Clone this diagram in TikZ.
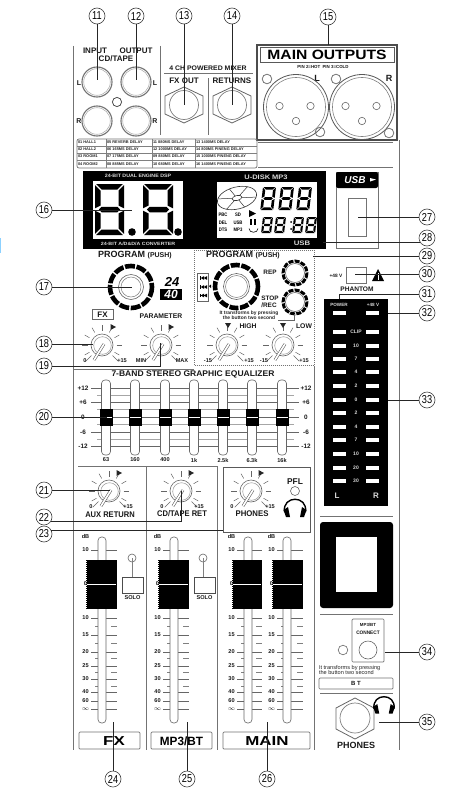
\documentclass[tikz,border=0pt]{standalone}
\usepackage{fontspec}
\usepackage{graphicx}
\setmainfont{Liberation Sans}
\usetikzlibrary{calc}
\newcounter{nn}
\newcommand{\sx}[2]{\scalebox{#1}[1]{#2}}
\newcommand{\fsz}[1]{\fontsize{#1}{#1}\selectfont}
\tikzset{
  every node/.append style={/utils/exec={\stepcounter{nn}},name=n\thenn,inner sep=0pt,outer sep=0pt},
  calloutnum/.style={draw=black!75,circle,line width=.6pt,minimum size=16pt,fill=white,font=\fsz{11.5}},
  lead/.style={draw=black!85,line width=.6pt},
  panel/.style={draw=black!55,line width=.7pt},
  lab/.style={font=\bfseries\fsz{7},text=black!90},
  tiny/.style={font=\bfseries\fsz{5.6},text=black!90},
  ledlab/.style={font=\bfseries\fsz{5},text=white!85!black},
  ringline/.style={draw=black!55,line width=1.1pt},
  thinring/.style={draw=black!60,line width=.6pt},
  tickl/.style={draw=black!60,line width=.5pt},
  slotl/.style={draw=black!60,line width=.6pt,fill=white,rounded corners=3.5pt},
  dbox/.style={draw=black!55,line width=.7pt,rounded corners=1pt},
}
% knob: centre
\newcommand{\knob}[2]{%
 \begin{scope}[shift={(#1,#2)}]
  \foreach \a in {150,180,210,240,270,300,330,0,30}{\draw[tickl] (\a:14.5)--(\a:20);}
  \draw[tickl] (135:15)--(135:23);
  \draw[tickl] (45:15)--(45:23);
  \draw[thinring,fill=white] (0,0) circle (11);
  \draw[draw=black!40,line width=.5pt] (.5,.5) circle (8.8);
  \draw[black!65,line width=2.8pt] (2,-1)--(-8,15);
  \draw[white,line width=1.7pt] (2,-1)--(-8,15);
 \end{scope}}
% hexagonal jack
\newcommand{\hexjack}[4]{%
 \draw[draw=black!60,line width=.8pt] (#1,#2-#4)--(#1+#3,#2-#4/2)--(#1+#3,#2+#4/2)--(#1,#2+#4)--(#1-#3,#2+#4/2)--(#1-#3,#2-#4/2)--cycle;
 \draw[draw=black!50,line width=.7pt] (#1,#2) circle (14.5);
}
% xlr
\newcommand{\xlr}[2]{%
 \draw[draw=black!65,line width=.8pt] (#1,#2) circle (32.5);
 \draw[draw=black!50,line width=.6pt] (#1,#2) circle (29.5);
 \draw[thinring] (#1-16.5,#2-1) circle (3.7);
 \draw[thinring] (#1+14.5,#2-1) circle (3.7);
 \draw[thinring] (#1,#2+14) circle (3.7);
}
% seven segments
\newcommand{\sevenseg}[6]{%
 \begin{scope}[shift={(#1,#2)},xslant=#6]
  \pgfmathsetmacro\W{#3}\pgfmathsetmacro\H{#4}\pgfmathsetmacro\T{#5}\pgfmathsetmacro\G{\T*.22}\pgfmathsetmacro\M{\H/2}
  \fill[black] ({\G},0)--({\W-\G},0)--({\W-\T-\G},\T)--({\T+\G},\T)--cycle;
  \fill[black] ({\G},\H)--({\W-\G},\H)--({\W-\T-\G},{\H-\T})--({\T+\G},{\H-\T})--cycle;
  \fill[black] ({\G+\T*.5},{\M})--({\T+\G},{\M-\T/2})--({\W-\T-\G},{\M-\T/2})--({\W-\G-\T*.5},{\M})--({\W-\T-\G},{\M+\T/2})--({\T+\G},{\M+\T/2})--cycle;
  \fill[black] (0,{\G})--(\T,{\T+\G})--(\T,{\M-\T/2-\G})--(0,{\M-\G})--cycle;
  \fill[black] (\W,{\G})--({\W-\T},{\T+\G})--({\W-\T},{\M-\T/2-\G})--(\W,{\M-\G})--cycle;
  \fill[black] (0,{\M+\G})--(\T,{\M+\T/2+\G})--(\T,{\H-\T-\G})--(0,{\H-\G})--cycle;
  \fill[black] (\W,{\M+\G})--({\W-\T},{\M+\T/2+\G})--({\W-\T},{\H-\T-\G})--(\W,{\H-\G})--cycle;
 \end{scope}}
% headphones
\newcommand{\headset}[3]{%
 \begin{scope}[shift={(#1,#2)},scale=#3]
  \draw[black,line width=1.4pt] (-10.5,4) .. controls (-13,-13) and (13,-13) .. (10.5,4);
  \fill[black] (-11.5,2)--(-7,-1)--(-5,9)--(-9,9)--cycle;
  \fill[black] (11.5,2)--(7,-1)--(5,9)--(9,9)--cycle;
 \end{scope}}
% main fader
\newcommand{\fader}[3]{% slot x, cap left, cap right
 \foreach \yy/\ww in {550/1,618/1,635/1,652/1,666/1,679/1,692/1,701/1,709/1}{\draw[tickl] (#2+5,\yy)--(#3,\yy);}
 \foreach \yy in {626,643,658,672,686}{\draw[draw=black!50,line width=.4pt] (#2+9,\yy)--(#2+14,\yy);\draw[draw=black!50,line width=.4pt] (#3-6,\yy)--(#3,\yy);}
 \draw[slotl] (#1-4,537) rectangle (#1+4,723);
 \fill[black] (#2,560) rectangle (#3,609);
 \draw[white,line width=.8pt,dash pattern=on 1pt off 1pt] (#2+.3,561)--(#2+.3,608);
 \draw[white,line width=.8pt] (#2+1,584)--(#3-1,584);
 \foreach \t/\yy in {dB/536,10/550,0/584,10/618,15/635,20/652,25/666,30/679,40/692,60/701,{$\infty$}/709}{\node[tiny] at (#2-.5,\yy) {\t};}
}
\newcommand{\callout}[5]{%
 \node[calloutnum] (c#1) at (#2,#3) {\sx{.8}{#1}};
 \coordinate (t#1) at (#4,#5);
 \draw[lead] (c#1)--(t#1);
}
\begin{document}
\begin{tikzpicture}[x=1pt,y=-1pt]
\useasboundingbox (0,0) rectangle (475,792);
\fill[white] (0,0) rectangle (475,792);
\fill[blue!40!cyan!45] (0,238) rectangle (1,253);
% outer panel
\draw[panel] (73,46)--(73,750);
\draw[panel] (399,140)--(399,750);
\draw[panel] (314,366)--(314,750);
\draw[panel] (73,369)--(194,369);
\draw[panel] (78,466)--(218,466);
\draw[panel] (146,466)--(146,750);
\draw[panel] (217,466)--(217,750);
\draw[panel] (160.5,46)--(160.5,135);
\draw[panel] (208,78)--(208,135);
\draw[panel] (164,73)--(253,73);
\draw[panel] (258,142)--(393,142);
\draw[panel] (258,167)--(393,167);
% top labels
\node[lab,font=\bfseries\fsz{8}] at (95,50.5) {INPUT};
\node[lab,font=\bfseries\fsz{8}] at (136,50.5) {OUTPUT};
\node[lab,font=\bfseries\fsz{8}] at (116,58.5) {CD/TAPE};
\node[lab] at (79,83) {L};
\node[lab] at (155,83) {L};
\node[lab] at (79,121) {R};
\node[lab] at (155,121) {R};
\foreach \cx/\cy in {97/82,136/82,97/121,136/121}{
  \draw[ringline] (\cx,\cy) circle (15);
  \draw[draw=black!35,line width=.5pt] (\cx,\cy) circle (13.3);
}
\draw[draw=black!70,line width=.8pt] (117,102) circle (4.6);
\node[lab,font=\bfseries\fsz{6.6}] at (208,68) {\sx{1.05}{4 CH POWERED MIXER}};
\node[lab,font=\bfseries\fsz{8}] at (184,81) {FX OUT};
\node[lab,font=\bfseries\fsz{8}] at (232,81) {RETURNS};
\hexjack{184}{105}{19}{18}
\hexjack{232}{105}{19}{18}
% main outputs
\draw[draw=black!70,line width=1.1pt] (257,45) rectangle (397,140);
\draw[draw=black!65,line width=.7pt] (260,47) rectangle (394,62);
\node[font=\bfseries\fsz{13.5},text=black] at (327,55) {\sx{1.16}{MAIN OUTPUTS}};
\node[tiny,font=\bfseries\fsz{4.4}] at (323,67) {PIN 2=HOT\enspace PIN 3=COLD};
\node[lab,font=\bfseries\fsz{9}] at (317,78) {L};
\node[lab,font=\bfseries\fsz{9}] at (389,78) {R};
\xlr{296}{107}
\xlr{362}{107}
\foreach \cx/\cy in {267/79,320/132,336/79,389/133}{\draw[ringline,line width=.8pt] (\cx,\cy) circle (4.8);}
% delay table
\draw[dbox,rounded corners=2pt] (77,139) rectangle (257,168);
\foreach \yy in {146,153,160}{\draw[draw=black!50,line width=.5pt] (77,\yy)--(257,\yy);}
\foreach \xx in {106,152,195}{\draw[draw=black!50,line width=.5pt] (\xx,139)--(\xx,168);}
\foreach \xx/\yy/\t in {
 78/142.5/01 HALL1,107/142.5/05 REVERB DELAY,153/142.5/11 880MS DELAY,196/142.5/13 1400MS DELAY,
 78/149.5/02 HALL2,107/149.5/06 165MS DELAY,153/149.5/12 1000MS DELAY,196/149.5/14 800MS PINENG DELAY,
 78/156.5/03 ROOM1,107/156.5/07 175MS DELAY,153/156.5/09 880MS DELAY,196/156.5/15 1000MS PINENG DELAY,
 78/164/04 ROOM2,107/164/08 885MS DELAY,153/164/10 680MS DELAY,196/164/16 1400MS PINENG DELAY}{
 \node[anchor=west,font=\bfseries\fsz{3.9},text=black!85] at (\xx,\yy) {\t};}
% display
\fill[black] (83,171) rectangle (326,249);
\fill[white] (93,181) rectangle (183,239);
\fill[white] (217,182) rectangle (317,238);
\node[ledlab,font=\bfseries\fsz{4.8}] at (138,176) {\sx{1.1}{24-BIT DUAL ENGINE DSP}};
\node[ledlab,font=\bfseries\fsz{4.6}] at (138,244) {\sx{1.15}{24-BIT A/D\&D/A CONVERTER}};
\node[ledlab,font=\bfseries\fsz{6.5}] at (266,177) {\sx{1.15}{U-DISK MP3}};
\node[ledlab,font=\bfseries\fsz{6.5}] at (302,243.5) {\sx{1.2}{USB}};
\sevenseg{95}{184}{29}{51}{5.5}{0}
\sevenseg{143}{184}{30}{51}{5.5}{0}
\fill[black] (132,232) circle (3.8);
\fill[black] (178,232) circle (3.8);
\foreach \xx in {263,281,299}{\sevenseg{\xx}{187}{13}{23}{2.6}{.12}}
\foreach \xx in {263,276,294,307}{\sevenseg{\xx}{217}{10}{16}{2.1}{.12}}
\fill[black] (291,222) circle (1);
\fill[black] (291,229) circle (1);
% disc
\begin{scope}[shift={(237,198)},rotate=14]
 \draw[draw=black!80,line width=.6pt] (0,0) ellipse (20 and 11);
 \draw[draw=black!80,line width=.6pt,fill=white] (0,0) ellipse (5 and 2.5);
 \foreach \a in {20,75,130,200,255,310}{\draw[draw=black!80,line width=.5pt] ({5*cos(\a)},{2.5*sin(\a)})--({20*cos(\a)},{11*sin(\a)});}
\end{scope}
\foreach \xx/\yy/\t in {223/215/PBC,238/215/SD,223/222.5/DEL,238/222.5/USB,223/230/DTS,238/230/MP3}{
 \node[font=\bfseries\fsz{5},text=black] at (\xx,\yy) {\sx{.85}{\t}};}
\fill[black] (249,210)--(256,213.5)--(249,217)--cycle;
\fill[black] (250,219) rectangle (251.7,225);
\fill[black] (254,219) rectangle (255.7,225);
\draw[black,line width=.6pt] (249,228.5) .. controls (249,233.5) and (258,233.5) .. (258,228.5);
% USB block
\draw[panel,line width=.6pt] (336,172) rectangle (378,248);
\fill[black,rounded corners=2pt] (336,172) rectangle (378,188);
\node[font=\bfseries\itshape\fsz{10},text=white] at (355,180) {USB};
\fill[white] (370,178)--(376,179.5)--(370,181.5)--cycle;
\draw[panel,line width=.6pt] (348,198) rectangle (366,236);
% left program
\node[lab,font=\bfseries\fsz{9}] at (135,255) {PROGRAM {\fsz{7}(PUSH)}};
\draw[black,line width=4.6pt,dash pattern=on 10pt off 1.6pt] (131,287) circle (21);
\draw[thinring] (131,287) circle (12.5);
\draw[draw=black!50,line width=.5pt] (131,287) circle (10);
\fill[black] (160,288.5) rectangle (182,299.5);
\node[font=\bfseries\itshape\fsz{13},text=black] at (172,282) {24};
\node[font=\bfseries\itshape\fsz{12},text=white] at (171,294.5) {40};
\draw[draw=black!60,fill=white,line width=.7pt] (92,309) rectangle (113,319);
\node[lab,font=\bfseries\fsz{8}] at (102.5,314.5) {FX};
\node[lab,font=\bfseries\fsz{6.8}] at (161,316) {PARAMETER};
\knob{102}{345}
\knob{161}{345}
\knob{227}{345}
\knob{283}{345}
\fill[black!85] (110.5,324)--(116,327)--(110.5,330)--cycle;
\fill[black!85] (168.5,324)--(174,327)--(168.5,330)--cycle;
\fill[black!85] (225,323)--(231,323)--(228,328)--cycle;
\fill[black!85] (280,323)--(286,323)--(283,328)--cycle;
\node[tiny] at (85,361) {0};
\node[tiny] at (122,361) {+15};
\node[tiny] at (141,361) {MIN};
\node[tiny] at (182,361) {MAX};
\node[tiny] at (208,361) {-15};
\node[tiny] at (249,361) {+15};
\node[tiny] at (264,361) {-15};
\node[tiny] at (304,361) {+15};
% right program box
\draw[draw=black!55,line width=1pt,dash pattern=on 1pt off 1pt] (194,250) rectangle (314,365.5);
\node[lab,font=\bfseries\fsz{9}] at (243,255) {PROGRAM {\fsz{7}(PUSH)}};
\draw[black,line width=4.6pt,dash pattern=on 9pt off 1.6pt] (236.5,286.5) circle (21.5);
\draw[thinring] (236.5,286.5) circle (13);
\draw[draw=black!50,line width=.5pt] (236.5,286.5) circle (11);
\draw[draw=black!60,line width=.6pt] (197,273) rectangle (208,301);
\fill[black] (209,286)--(211,284.5)--(211,288)--cycle;
\foreach \yy in {278,287,295.5}{
 \fill[black] (199.5,\yy-1.6) rectangle (200.3,\yy+1.6);
 \fill[black] (204,\yy-1.8)--(200.6,\yy)--(204,\yy+1.8)--cycle;
 \fill[black] (207,\yy-1.8)--(203.6,\yy)--(207,\yy+1.8)--cycle;
}
\node[lab,font=\bfseries\fsz{6.4}] at (270,272) {REP};
\node[lab,font=\bfseries\fsz{6.4},align=left] at (270,302) {STOP\\[1pt]/REC};
\foreach \yy in {273,302}{
 \draw[black,line width=3pt,dash pattern=on 5pt off 1.2pt] (295,\yy) circle (12);
 \draw[thinring] (295,\yy) circle (9.5);
}
\node[font=\bfseries\fsz{4.9},text=black!85,align=center] at (249,315) {It transforms by pressing\\[.6pt]the button two second};
\draw[draw=black!60,line width=.5pt] (278,320)--(294,320)--(294,314);
\node[lab,font=\bfseries\fsz{6.8}] at (248,326) {HIGH};
\node[lab,font=\bfseries\fsz{6.8}] at (304,326) {LOW};
% phantom
\node[tiny,font=\bfseries\fsz{4.8}] at (336,276) {+48 V};
\draw[panel,line width=.6pt] (346,267) rectangle (366,283);
\fill[black] (378,269)--(384,281)--(372,281)--cycle;
\fill[white] (377.5,272.5) rectangle (378.5,277.5);
\fill[white] (377.5,278.3) rectangle (378.5,279.6);
\node[lab,font=\bfseries\fsz{6.6}] at (357,289) {PHANTOM};
% VU meter
\fill[black] (324,299) rectangle (388,506);
\node[ledlab,font=\bfseries\fsz{4.6}] at (339,305) {POWER};
\node[ledlab,font=\bfseries\fsz{4.6}] at (373,305) {+48 V};
\foreach \yy/\t in {313/,332/CLIP,346/10,359/7,372/4,386/2,400/0,413/2,427/4,440/7,454/10,468/20,481/30}{
 \fill[white] (333,\yy-2.3) rectangle (346,\yy+2.3);
 \fill[white] (366,\yy-2.3) rectangle (379,\yy+2.3);
 \node[ledlab,font=\bfseries\fsz{5},text=black!15] at (356,\yy) {\t};
}
\node[ledlab,font=\bfseries\fsz{8}] at (337,496) {L};
\node[ledlab,font=\bfseries\fsz{8}] at (376,496) {R};
% EQ
\node[lab,font=\bfseries\fsz{8.2}] at (193,374) {\sx{1.04}{7-BAND STEREO GRAPHIC EQUALIZER}};
\foreach \yy/\t in {388/+12,402/+6,417/0,432/-6,446/-12}{
 \node[lab,font=\bfseries\fsz{6.4}] at (83,\yy) {\t};
 \node[lab,font=\bfseries\fsz{6.4}] at (306,\yy) {\t};
 \draw[tickl] (91,\yy)--(299,\yy);
}
\foreach \yy in {395,409,424,439}{\draw[draw=black!35,line width=.4pt] (97,\yy)--(294,\yy);}
\foreach \xx/\t in {106/63,135/160,165/400,194/1k,223/2.5k,252/6.3k,282/16k}{
 \draw[slotl] (\xx-4.5,380) rectangle (\xx+4.5,455);
 \fill[black] (\xx-6.5,409) rectangle (\xx+6.5,426);
 \draw[white,line width=.8pt] (\xx-5.5,417)--(\xx+5.5,417);
 \node[tiny,font=\bfseries\fsz{5.6}] at (\xx,460) {\t};
}
% lower knobs
\draw[draw=black!65,line width=.8pt] (223,467) rectangle (310,532);
\knob{109}{491}
\knob{181}{491}
\knob{251}{491}
\fill[black!85] (116.5,470)--(122,473)--(116.5,476)--cycle;
\fill[black!85] (188.5,470)--(194,473)--(188.5,476)--cycle;
\fill[black!85] (258.5,470)--(264,473)--(258.5,476)--cycle;
\foreach \xx/\t in {91/0,128/+15,162/0,199/+15,232/0,270/+15}{\node[tiny] at (\xx,507) {\t};}
\node[lab,font=\bfseries\fsz{8.2}] at (110,515) {\sx{.92}{AUX RETURN}};
\node[lab,font=\bfseries\fsz{8.2}] at (182,514) {\sx{.92}{CD/TAPE RET}};
\node[lab,font=\bfseries\fsz{8.2}] at (252,514) {\sx{.95}{PHONES}};
\node[lab,font=\bfseries\fsz{8.4}] at (295,482) {PFL};
\draw[thinring] (295,491) circle (4.5);
\headset{295}{508}{1}
% faders
\fader{102}{86}{117}
\fader{174}{158}{189}
\fader{248}{232}{262}
\fader{287}{272}{303}
\draw[thinring] (132,558) circle (4);
\draw[thinring] (203,558) circle (4);
\draw[draw=black!50,line width=.5pt] (132,558)--(132,577);
\draw[draw=black!50,line width=.5pt] (203,558)--(203,577);
\draw[draw=black!70,line width=.7pt] (122,577) rectangle (143,593);
\draw[draw=black!70,line width=.7pt] (194,577) rectangle (215,593);
\node[lab,font=\bfseries\fsz{5.6}] at (132.5,598) {SOLO};
\node[lab,font=\bfseries\fsz{5.6}] at (204.5,598) {SOLO};
\draw[dbox] (79,732) rectangle (140,749);
\draw[dbox] (151,732) rectangle (212,749);
\draw[dbox] (223,732) rectangle (310,749);
\node[font=\bfseries\fsz{13},text=black] at (114,741) {\sx{1.3}{FX}};
\node[font=\bfseries\fsz{12},text=black] at (181.5,741) {\sx{.98}{MP3/BT}};
\node[font=\bfseries\fsz{13},text=black] at (267,741) {\sx{1.3}{MAIN}};
% bottom right
\draw[panel] (320,516)--(393,516);
\draw[panel] (320,614)--(393,614);
\fill[black,rounded corners=3pt] (320,522) rectangle (393,608);
\fill[white] (336,537) rectangle (377,592);
\draw[dbox] (352,619) rectangle (384,662);
\node[tiny,font=\bfseries\fsz{4.4}] at (368,625) {MP3/BT};
\node[tiny,font=\bfseries\fsz{5}] at (368,633) {\sx{.95}{CONNECT}};
\draw[thinring] (368,650) circle (9);
\draw[thinring] (343,650) circle (4.8);
\node[anchor=west,font=\fsz{5.6},text=black!85,align=left] at (319,670) {It transforms by pressing\\[-.2pt]the button two second};
\draw[dbox] (319,678) rectangle (393,689);
\node[lab,font=\bfseries\fsz{6}] at (356,683.5) {B T};
\draw[panel] (320,693)--(393,693);
\draw[draw=black!60,line width=.8pt] (355,698)--(374,708)--(374,729)--(355,739)--(336,729)--(336,708)--cycle;
\draw[draw=black!50,line width=.7pt] (355,718) circle (15);
\headset{384}{705}{.95}
\node[lab,font=\bfseries\fsz{9}] at (356,745) {PHONES};
% callouts
\callout{11}{97}{16}{97}{80}
\callout{12}{136}{16}{136}{80}
\callout{13}{184}{16}{184}{105}
\callout{14}{232}{16}{232}{105}
\callout{15}{328}{17}{328}{45}
\callout{16}{44}{210}{132}{210}
\callout{17}{44}{287}{132}{287}
\callout{18}{44}{344}{93}{344}
\callout{20}{44}{417}{107}{417}
\callout{21}{44}{490}{110}{490}
\callout{24}{113}{779}{113}{722}
\callout{25}{187}{779}{187}{722}
\callout{26}{267}{779}{267}{722}
\callout{27}{427}{217}{358}{217}
\callout{29}{427}{256}{313}{256}
\callout{30}{427}{274}{355}{274}
\callout{32}{427}{313}{388}{313}
\callout{33}{427}{400}{388}{400}
\callout{34}{427}{652}{385}{652}
\callout{35}{427}{722}{379}{722}
\node[calloutnum] (c28) at (427,238) {\sx{.8}{28}};
\coordinate (t28) at (323,242);
\draw[lead] (c28.210)--(c28.210-|t28);
\node[calloutnum] (c19) at (44,366) {\sx{.8}{19}};
\coordinate (t19) at (160,343);
\draw[lead] (c19)--(c19-|t19)--(t19);
\node[calloutnum] (c22) at (44,517) {\sx{.8}{22}};
\coordinate (t22) at (181,491);
\draw[lead] (c22.-30)--(c22.-30-|t22)--(t22);
\node[calloutnum] (c23) at (44,534) {\sx{.8}{23}};
\coordinate (t23) at (223,530);
\draw[lead] (c23.30)--(c23.30-|t23);
\node[calloutnum] (c31) at (427,294) {\sx{.8}{31}};
\coordinate (t31) at (339,299);
\draw[lead] (c31)--(c31-|t31)--(t31);
\end{tikzpicture}
\end{document}
